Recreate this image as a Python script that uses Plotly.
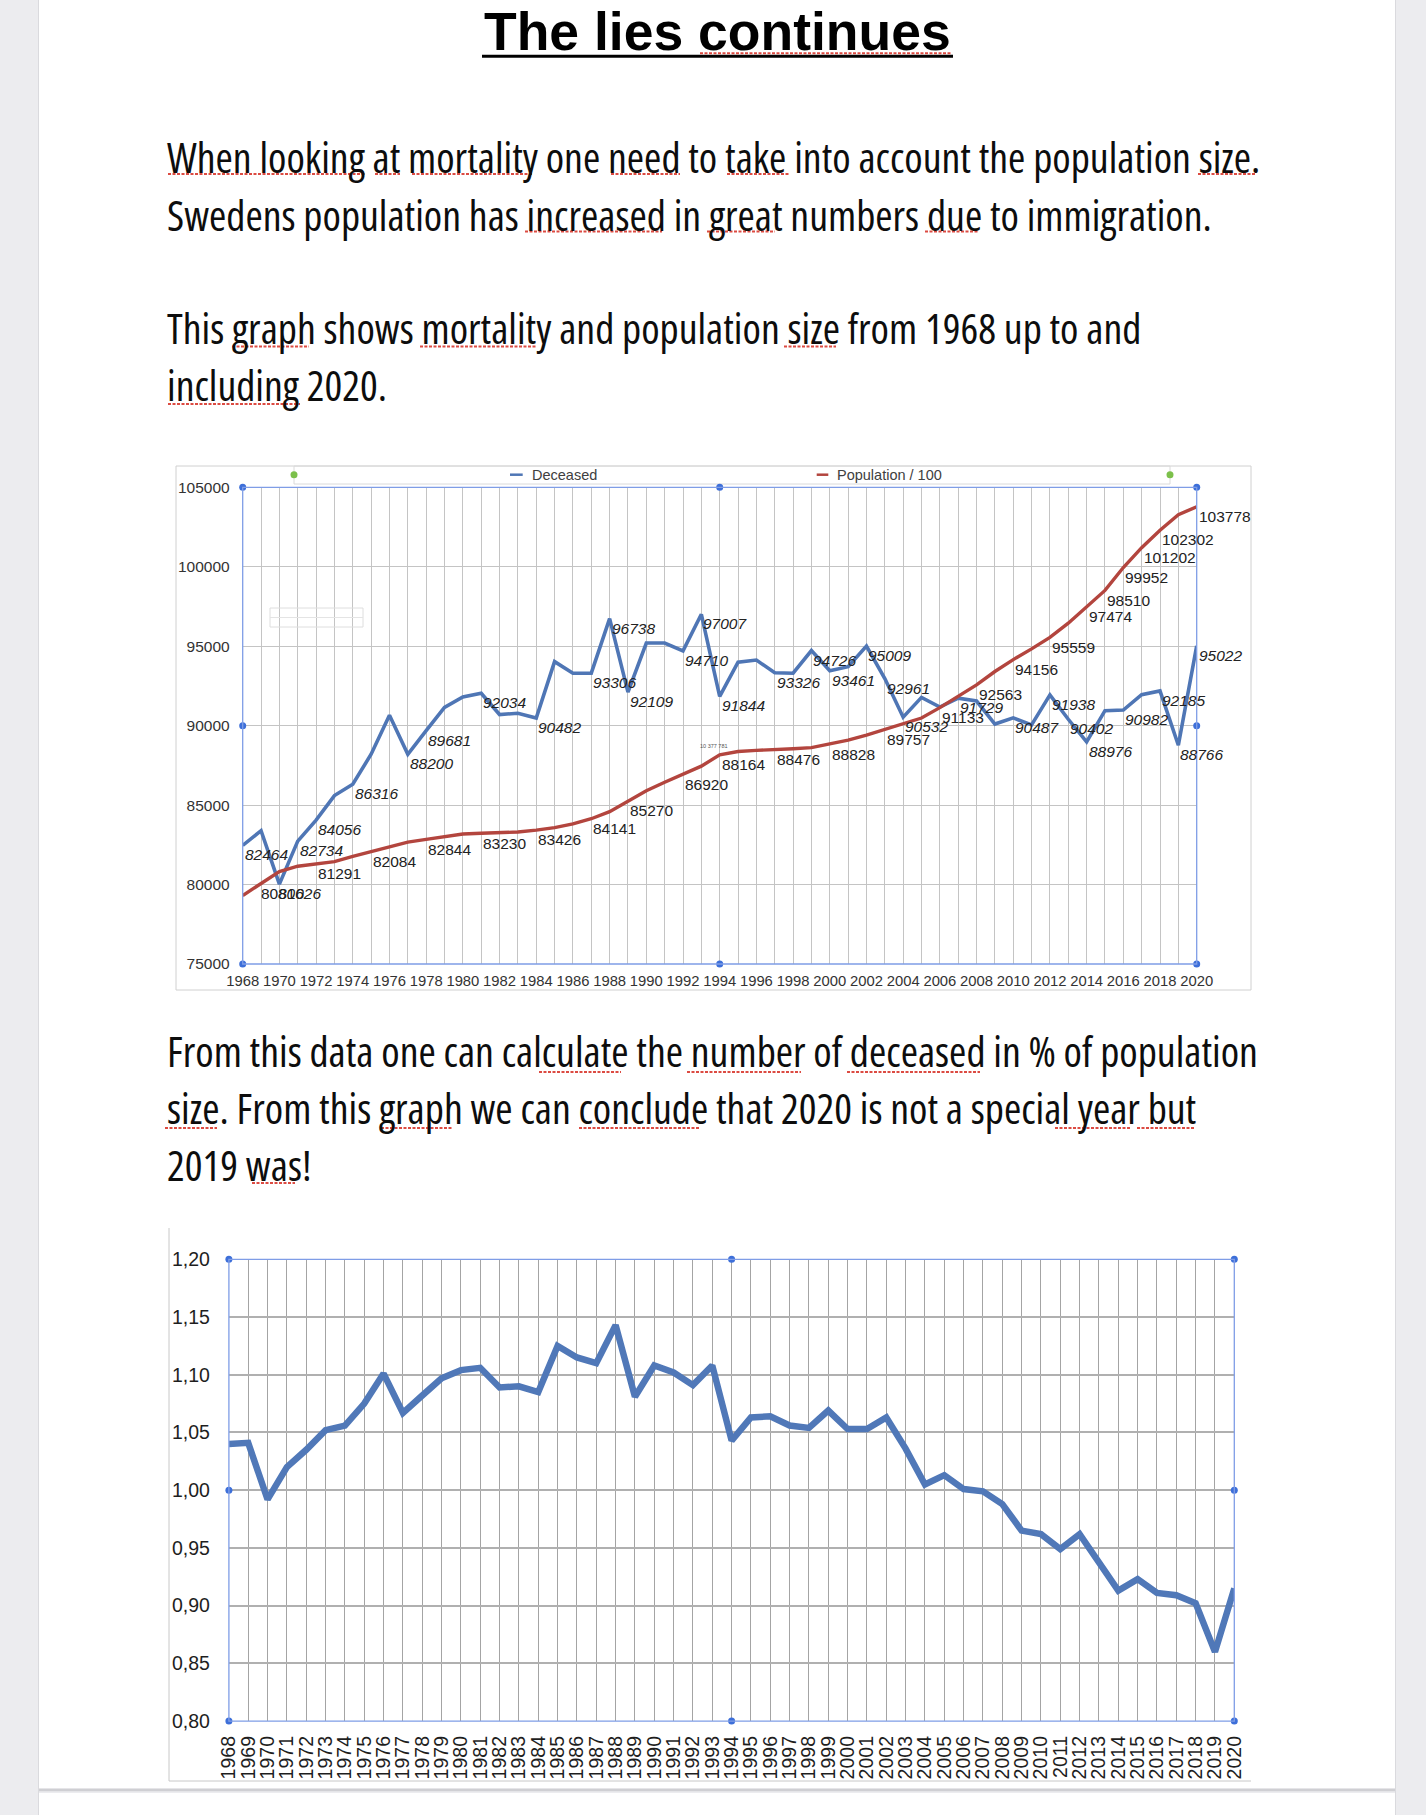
import plotly.graph_objects as go

W, H = 1426, 1815

# ---------------- data ----------------
years = list(range(1968, 2021))
deceased = [82464, 83390, 80026, 82734, 84056, 85600, 86316, 88200, 90650, 88200,
            89681, 91150, 91800, 92034, 90700, 90780, 90482, 94030, 93300, 93306,
            96738, 92109, 95200, 95200, 94710, 97007, 91844, 93990, 94130, 93326,
            93300, 94726, 93461, 93710, 95009, 92961, 90532, 91780, 91170, 91729,
            91550, 90100, 90487, 90050, 91938, 90402, 88976, 90940, 90982, 91950,
            92185, 88766, 95022]
population_100 = [79312, 80043, 80816, 81152, 81291, 81444, 81767, 82084, 82362, 82671,
                  82844, 83030, 83179, 83230, 83275, 83306, 83426, 83583, 83817, 84141,
                  84588, 85270, 85906, 86441, 86920, 87451, 88164, 88375, 88445, 88476,
                  88543, 88614, 88828, 89091, 89408, 89757, 90114, 90478, 91133, 91829,
                  92563, 93407, 94156, 94829, 95559, 96449, 97474, 98510, 99952, 101202,
                  102302, 103276, 103778]
deaths_pct = [1.040, 1.041, 0.992, 1.020, 1.035, 1.052, 1.056, 1.075, 1.101, 1.067,
              1.082, 1.097, 1.104, 1.106, 1.089, 1.090, 1.085, 1.125, 1.115, 1.110,
              1.143, 1.081, 1.108, 1.102, 1.091, 1.108, 1.043, 1.063, 1.064, 1.056,
              1.054, 1.069, 1.053, 1.053, 1.063, 1.036, 1.005, 1.013, 1.001, 0.999,
              0.988, 0.965, 0.962, 0.949, 0.962, 0.938, 0.913, 0.923, 0.911, 0.909,
              0.902, 0.860, 0.915]

dec_label_years = [1968, 1970, 1971, 1972, 1974, 1977, 1978, 1981, 1984, 1987, 1988, 1989,
                   1992, 1993, 1994, 1997, 1999, 2000, 2002, 2003, 2004, 2007, 2010, 2012,
                   2013, 2014, 2016, 2018, 2019, 2020]
pop_label_years = [1970, 1972, 1975, 1978, 1981, 1984, 1987, 1989, 1992, 1994, 1997, 2000,
                   2003, 2006, 2008, 2010, 2012, 2014, 2015, 2016, 2017, 2018, 2020]

y1_ticks = [75000, 80000, 85000, 90000, 95000, 100000, 105000]
y1_ticktext = ["75000", "80000", "85000", "90000", "95000", "100000", "105000"]
x1_ticks = list(range(1968, 2021, 2))
y2_ticks = [0.80, 0.85, 0.90, 0.95, 1.00, 1.05, 1.10, 1.15, 1.20]
y2_ticktext = ["0,80", "0,85", "0,90", "0,95", "1,00", "1,05", "1,10", "1,15", "1,20"]

title_text = "The lies continues"
para1 = ["When looking at mortality one need to take into account the population size.",
         "Swedens population has increased in great numbers due to immigration.",
         "This graph shows mortality and population size from 1968 up to and",
         "including 2020."]
para2 = ["From this data one can calculate the number of deceased in % of population",
         "size. From this graph we can conclude that 2020 is not a special year but",
         "2019 was!"]

# ---------------- helpers ----------------
def px(x):
    return x / W

def py(y):
    return 1 - y / H

CHART_FONT = "Liberation Sans, Arial, sans-serif"
BODY_FONT = "Open Sans, sans-serif"
BODY_SIZE = 41.8

fig = go.Figure()

fig.add_trace(go.Scatter(x=years, y=deceased, mode="lines", name="Deceased",
                         line=dict(color="#4f76b5", width=3.6), xaxis="x", yaxis="y",
                         hoverinfo="skip"))
fig.add_trace(go.Scatter(x=years, y=population_100, mode="lines", name="Population / 100",
                         line=dict(color="#b3453e", width=3.4), xaxis="x", yaxis="y",
                         hoverinfo="skip"))
fig.add_trace(go.Scatter(x=years, y=deaths_pct, mode="lines", name="% deceased",
                         line=dict(color="#5078b8", width=6.5), xaxis="x2", yaxis="y2",
                         hoverinfo="skip"))

# selection handles of the plot areas
fig.add_trace(go.Scatter(x=[1968, 1968, 1968, 1994, 1994, 2020, 2020, 2020],
                         y=[75000, 90000, 105000, 75000, 105000, 75000, 90000, 105000],
                         mode="markers", marker=dict(color="#3d6fd9", size=7),
                         cliponaxis=False, xaxis="x", yaxis="y", hoverinfo="skip"))
fig.add_trace(go.Scatter(x=[1968, 1968, 1968, 1994, 1994, 2020, 2020, 2020],
                         y=[0.80, 1.00, 1.20, 0.80, 1.20, 0.80, 1.00, 1.20],
                         mode="markers", marker=dict(color="#3d6fd9", size=7),
                         cliponaxis=False, xaxis="x2", yaxis="y2", hoverinfo="skip"))

shapes = []
# page
shapes.append(dict(type="rect", xref="paper", yref="paper", x0=px(39), x1=px(1395),
                   y0=py(1788), y1=1, fillcolor="white", line=dict(width=0), layer="below"))
shapes.append(dict(type="rect", xref="paper", yref="paper", x0=px(39), x1=px(1395),
                   y0=0, y1=py(1793), fillcolor="white", line=dict(width=0), layer="below"))
for xx in (38.5, 1395.5):
    shapes.append(dict(type="line", xref="paper", yref="paper", x0=px(xx), x1=px(xx),
                       y0=0, y1=1, line=dict(color="#dadade", width=1), layer="below"))
shapes.append(dict(type="line", xref="paper", yref="paper", x0=px(39), x1=px(1395),
                   y0=py(1790), y1=py(1790), line=dict(color="#cfcfd3", width=2.5), layer="below"))

# title underline + spell-check marks
shapes.append(dict(type="line", xref="paper", yref="paper", x0=px(482), x1=px(953),
                   y0=py(56.3), y1=py(56.3), line=dict(color="black", width=3)))
shapes.append(dict(type="line", xref="paper", yref="paper", x0=px(700), x1=px(951),
                   y0=py(53.3), y1=py(53.3), line=dict(color="#dc4b42", width=2, dash="3px,1.5px")))

spell_marks = [(168, 366, 174), (375, 400, 174), (412, 532, 174), (611, 680, 174),
               (727, 789, 174), (1198, 1256, 174),
               (525, 662, 231.5), (707, 775, 231.5), (925, 978, 231.5),
               (232, 309, 346.5), (420, 536, 346.5), (784, 836, 346.5),
               (168, 300, 404),
               (539, 621, 1072), (687, 801, 1072), (847, 980, 1072),
               (165, 217, 1128), (381, 453, 1128), (579, 699, 1128), (1055, 1131, 1128),
               (1137, 1194, 1128),
               (252, 295, 1183)]
for x0, x1, yy in spell_marks:
    shapes.append(dict(type="line", xref="paper", yref="paper", x0=px(x0), x1=px(x1),
                       y0=py(yy), y1=py(yy), line=dict(color="#dc4b42", width=2.2, dash="3px,1.5px")))

# chart 1 frame, legend box, legend keys, handles
shapes.append(dict(type="rect", xref="paper", yref="paper", x0=px(176), x1=px(1251),
                   y0=py(990), y1=py(466), line=dict(color="#d0d0d0", width=1), layer="below"))
shapes.append(dict(type="rect", xref="paper", yref="paper", x0=px(294), x1=px(1170),
                   y0=py(484), y1=py(466), line=dict(color="#dadada", width=1), layer="below"))
shapes.append(dict(type="line", xref="paper", yref="paper", x0=px(510), x1=px(522.7),
                   y0=py(474.7), y1=py(474.7), line=dict(color="#4f76b5", width=2.5)))
shapes.append(dict(type="line", xref="paper", yref="paper", x0=px(816.7), x1=px(828.3),
                   y0=py(474.7), y1=py(474.7), line=dict(color="#b3453e", width=2.5)))
for gx in (294, 1170):
    shapes.append(dict(type="circle", xref="paper", yref="paper", x0=px(gx - 3.5), x1=px(gx + 3.5),
                       y0=py(478.2), y1=py(471.2), fillcolor="#7cc04b", line=dict(width=0)))
shapes.append(dict(type="rect", xref="paper", yref="paper", x0=px(270), x1=px(363),
                   y0=py(627), y1=py(608), line=dict(color="#dedede", width=1)))
shapes.append(dict(type="line", xref="paper", yref="paper", x0=px(270), x1=px(363),
                   y0=py(617.5), y1=py(617.5), line=dict(color="#e4e4e4", width=1)))

# chart 2 frame (left + bottom)
shapes.append(dict(type="line", xref="paper", yref="paper", x0=px(169), x1=px(169),
                   y0=py(1781), y1=py(1228), line=dict(color="#c8c8c8", width=1)))
shapes.append(dict(type="line", xref="paper", yref="paper", x0=px(169), x1=px(1251),
                   y0=py(1781), y1=py(1781), line=dict(color="#c8c8c8", width=1)))

# plot-area selection outlines
shapes.append(dict(type="rect", xref="x domain", yref="y domain", x0=0, x1=1, y0=0, y1=1,
                   line=dict(color="#7f9de6", width=1.3)))
shapes.append(dict(type="rect", xref="x2 domain", yref="y2 domain", x0=0, x1=1, y0=0, y1=1,
                   line=dict(color="#7f9de6", width=1.3)))

annotations = []
annotations.append(dict(text=title_text, xref="paper", yref="paper", x=px(717.5), y=py(31),
                        xanchor="center", yanchor="middle", showarrow=False,
                        font=dict(family=CHART_FONT, size=53.5, color="black", weight="bold")))
body_lines = list(zip(para1, [156.7, 214.2, 327.8, 384.5])) + list(zip(para2, [1050, 1107, 1164]))
for txt, yy in body_lines:
    annotations.append(dict(text='<span style="font-stretch:condensed">' + txt + '</span>',
                            xref="paper", yref="paper", x=px(165), y=py(yy),
                            xanchor="left", yanchor="middle", showarrow=False,
                            font=dict(family=BODY_FONT, size=BODY_SIZE, color="#0d0d0d")))

annotations.append(dict(text="Deceased", xref="paper", yref="paper", x=px(530), y=py(474.7),
                        xanchor="left", yanchor="middle", showarrow=False,
                        font=dict(family=CHART_FONT, size=14.5, color="#404040")))
annotations.append(dict(text="Population / 100", xref="paper", yref="paper", x=px(834.7), y=py(474.7),
                        xanchor="left", yanchor="middle", showarrow=False,
                        font=dict(family=CHART_FONT, size=14.5, color="#404040")))
annotations.append(dict(text="10 377 781", xref="paper", yref="paper", x=px(714), y=py(745.7),
                        xanchor="center", yanchor="middle", showarrow=False,
                        font=dict(family=CHART_FONT, size=5.5, color="#555555")))

LBL = dict(family=CHART_FONT, size=15.5, color="#222222")
for yr in dec_label_years:
    i = years.index(yr)
    xs, ys = 0, -9.5
    if yr == 1970:
        xs, ys = -3, -9
    annotations.append(dict(text=str(deceased[i]), x=yr, y=deceased[i], xref="x", yref="y",
                            xanchor="left", yanchor="middle", xshift=xs, yshift=ys,
                            showarrow=False, font=dict(LBL, style="italic")))
for yr in pop_label_years:
    i = years.index(yr)
    xs, ys = 0, -9.8
    if yr == 1970:
        xs, ys = -20.7, -21.7
    annotations.append(dict(text=str(population_100[i]), x=yr, y=population_100[i], xref="x", yref="y",
                            xanchor="left", yanchor="middle", xshift=xs, yshift=ys,
                            showarrow=False, font=LBL))

fig.update_layout(
    width=W, height=H, autosize=False,
    margin=dict(l=0, r=0, t=0, b=0, pad=0),
    paper_bgcolor="#ececef", plot_bgcolor="white",
    showlegend=False,
    shapes=shapes, annotations=annotations,
    xaxis=dict(domain=[px(242.7), px(1196.7)], range=[1968, 2020], anchor="y", automargin=False,
               tickvals=x1_ticks, ticktext=[str(v) for v in x1_ticks],
               showgrid=True, gridcolor="#c4c4c4", gridwidth=1,
               minor=dict(dtick=1, tick0=1968, showgrid=True, gridcolor="#c4c4c4", gridwidth=1),
               ticks="", zeroline=False, showline=False, ticklabelstandoff=6,
               tickfont=dict(family=CHART_FONT, size=14.8, color="#333333"), fixedrange=True),
    yaxis=dict(domain=[py(964), py(487.3)], range=[75000, 105000], anchor="x", automargin=False,
               tickvals=y1_ticks, ticktext=y1_ticktext,
               showgrid=True, gridcolor="#c4c4c4", gridwidth=1,
               ticks="", zeroline=False, showline=False, ticklabelstandoff=12,
               tickfont=dict(family=CHART_FONT, size=15.5, color="#333333"), fixedrange=True),
    xaxis2=dict(domain=[px(228.9), px(1234.3)], range=[1968, 2020], anchor="y2", automargin=False,
                tickvals=years, ticktext=[str(v) for v in years], tickangle=-90,
                showgrid=True, gridcolor="#a4a4a4", gridwidth=1.3,
                ticks="", zeroline=False, showline=False, ticklabelstandoff=10,
                tickfont=dict(family=CHART_FONT, size=19.5, color="#1e1e1e"), fixedrange=True),
    yaxis2=dict(domain=[py(1721.1), py(1259.3)], range=[0.80, 1.20], anchor="x2", automargin=False,
                tickvals=y2_ticks, ticktext=y2_ticktext,
                showgrid=True, gridcolor="#b0b0b0", gridwidth=2,
                ticks="", zeroline=False, showline=False, ticklabelstandoff=18,
                tickfont=dict(family=CHART_FONT, size=19.5, color="#1e1e1e"), fixedrange=True),
)

fig.write_html("out.html", config={"displayModeBar": False},
               post_script="document.body.style.margin='0px';document.body.style.overflow='hidden';"
                           "document.documentElement.style.overflow='hidden';")
